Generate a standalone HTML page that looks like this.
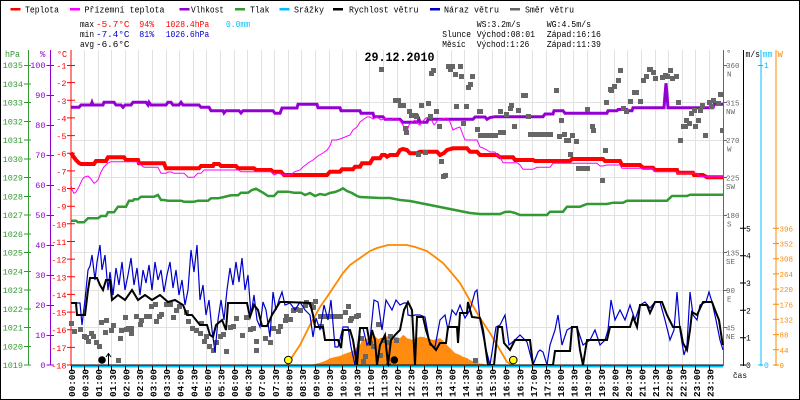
<!DOCTYPE html>
<html><head><meta charset="utf-8"><style>
html,body{margin:0;padding:0;background:#fff;}
svg{display:block;}
text{font-family:"Liberation Mono","DejaVu Sans Mono",monospace;}
</style></head><body>
<svg width="800" height="400" viewBox="0 0 800 400" xmlns="http://www.w3.org/2000/svg">
<rect x="0" y="0" width="800" height="400" fill="#fff"/>
<rect x="0.5" y="0.5" width="799" height="399" fill="none" stroke="#000" stroke-width="1"/>

<!-- legend -->
<g font-size="9">
<rect x="10.5" y="8" width="10" height="2.5" fill="#ff0000"/><text x="25" y="12.5" textLength="34" lengthAdjust="spacingAndGlyphs">Teplota</text>
<rect x="70" y="8" width="10" height="2.5" fill="#ff00ff"/><text x="84.5" y="12.5" textLength="80" lengthAdjust="spacingAndGlyphs">Přízemní teplota</text>
<rect x="179.5" y="8" width="10" height="2.5" fill="#9400d3"/><text x="191" y="12.5" textLength="33" lengthAdjust="spacingAndGlyphs">Vlhkost</text>
<rect x="235" y="8" width="10" height="2.5" fill="#339933"/><text x="250" y="12.5" textLength="19.5" lengthAdjust="spacingAndGlyphs">Tlak</text>
<rect x="279.5" y="8" width="10" height="2.5" fill="#00bfff"/><text x="294" y="12.5" textLength="30" lengthAdjust="spacingAndGlyphs">Srážky</text>
<rect x="333" y="8" width="10" height="2.5" fill="#000"/><text x="349" y="12.5" textLength="69.5" lengthAdjust="spacingAndGlyphs">Rychlost větru</text>
<rect x="430" y="8" width="10" height="2.5" fill="#0000cc"/><text x="444" y="12.5" textLength="55" lengthAdjust="spacingAndGlyphs">Náraz větru</text>
<rect x="510" y="8" width="10" height="2.5" fill="#666"/><text x="525" y="12.5" textLength="49" lengthAdjust="spacingAndGlyphs">Směr větru</text>
</g>

<!-- stats -->
<g font-size="9">
<text x="80" y="27" textLength="14" lengthAdjust="spacingAndGlyphs">max</text>
<text x="96" y="27" fill="#ff0000" textLength="33.5" lengthAdjust="spacingAndGlyphs">-5.7°C</text>
<text x="139.3" y="27" fill="#ff0000" textLength="15" lengthAdjust="spacingAndGlyphs">94%</text>
<text x="165.7" y="27" fill="#ff0000" textLength="43.5" lengthAdjust="spacingAndGlyphs">1028.4hPa</text>
<text x="226" y="27" fill="#00bfff" textLength="24" lengthAdjust="spacingAndGlyphs">0.0mm</text>
<text x="80" y="37" textLength="14" lengthAdjust="spacingAndGlyphs">min</text>
<text x="96" y="37" fill="#0000cc" textLength="33.5" lengthAdjust="spacingAndGlyphs">-7.4°C</text>
<text x="139.3" y="37" fill="#0000cc" textLength="15" lengthAdjust="spacingAndGlyphs">81%</text>
<text x="165.7" y="37" fill="#0000cc" textLength="43.5" lengthAdjust="spacingAndGlyphs">1026.6hPa</text>
<text x="80" y="47" textLength="14" lengthAdjust="spacingAndGlyphs">avg</text>
<text x="96" y="47" textLength="33.5" lengthAdjust="spacingAndGlyphs">-6.6°C</text>

<text x="476.7" y="27" textLength="44" lengthAdjust="spacingAndGlyphs">WS:3.2m/s</text>
<text x="546.7" y="27" textLength="44.3" lengthAdjust="spacingAndGlyphs">WG:4.5m/s</text>
<text x="442.3" y="37" textLength="28.7" lengthAdjust="spacingAndGlyphs">Slunce</text>
<text x="476.7" y="37" textLength="58.3" lengthAdjust="spacingAndGlyphs">Východ:08:01</text>
<text x="546.7" y="37" textLength="54.3" lengthAdjust="spacingAndGlyphs">Západ:16:16</text>
<text x="442.3" y="47" textLength="23.4" lengthAdjust="spacingAndGlyphs">Měsíc</text>
<text x="476.7" y="47" textLength="52.6" lengthAdjust="spacingAndGlyphs">Východ:1:26</text>
<text x="546.7" y="47" textLength="54.3" lengthAdjust="spacingAndGlyphs">Západ:11:39</text>
</g>

<!-- grid -->
<path d="M84.5 50V365M98.5 50V365M111.5 50V365M125.5 50V365M138.5 50V365M152.5 50V365M166.5 50V365M179.5 50V365M193.5 50V365M206.5 50V365M220.5 50V365M234.5 50V365M247.5 50V365M261.5 50V365M274.5 50V365M288.5 50V365M301.5 50V365M315.5 50V365M329.5 50V365M342.5 50V365M356.5 50V365M369.5 50V365M383.5 50V365M397.5 50V365M410.5 50V365M424.5 50V365M437.5 50V365M451.5 50V365M464.5 50V365M478.5 50V365M492.5 50V365M505.5 50V365M519.5 50V365M532.5 50V365M546.5 50V365M560.5 50V365M573.5 50V365M587.5 50V365M600.5 50V365M614.5 50V365M627.5 50V365M641.5 50V365M655.5 50V365M668.5 50V365M682.5 50V365M695.5 50V365M709.5 50V365M71 102.5H723M71 140.5H723M71 177.5H723M71 215.5H723M71 252.5H723M71 290.5H723M71 327.5H723" stroke="#e2e2e2" stroke-width="1" fill="none" shape-rendering="crispEdges"/>

<!-- title -->
<text x="364.5" y="61" font-size="13" font-weight="bold" textLength="70" lengthAdjust="spacingAndGlyphs">29.12.2010</text>

<!-- axes -->
<g shape-rendering="crispEdges">
<line x1="28.5" y1="50" x2="28.5" y2="365" stroke="#339933" stroke-width="1"/>
<line x1="50.5" y1="50" x2="50.5" y2="365" stroke="#9400d3" stroke-width="1"/>
<line x1="71" y1="50" x2="71" y2="366" stroke="#ff0000" stroke-width="1.3"/>
<line x1="723.5" y1="50" x2="723.5" y2="366" stroke="#666" stroke-width="1.2"/>
<line x1="743.5" y1="50" x2="743.5" y2="366" stroke="#000" stroke-width="1"/>
<line x1="761" y1="50" x2="761" y2="366" stroke="#00bfff" stroke-width="1.2"/>
<line x1="776" y1="50" x2="776" y2="366" stroke="#ff8800" stroke-width="1.2"/>
</g>
<g font-size="9">
<text x="5" y="57" fill="#339933" textLength="15" lengthAdjust="spacingAndGlyphs">hPa</text>
<text x="40" y="57" fill="#9400d3">%</text>
<text x="57" y="57" fill="#ff0000" textLength="10" lengthAdjust="spacingAndGlyphs">°C</text>
<text x="726" y="56" fill="#666">°</text>
<text x="745.5" y="57" textLength="14.5" lengthAdjust="spacingAndGlyphs">m/s</text>
<text x="762.5" y="57" fill="#00bfff" textLength="10" lengthAdjust="spacingAndGlyphs">mm</text>
<text x="777.5" y="57" fill="#ff8800">W</text>
</g>

<!-- hPa labels -->
<g font-size="8.5" fill="#339933" text-anchor="end">
<text x="23" y="68">1035</text><text x="23" y="86.75">1034</text><text x="23" y="105.5">1033</text><text x="23" y="124.25">1032</text><text x="23" y="143">1031</text><text x="23" y="161.75">1030</text><text x="23" y="180.5">1029</text><text x="23" y="199.25">1028</text><text x="23" y="218">1027</text><text x="23" y="236.75">1026</text><text x="23" y="255.5">1025</text><text x="23" y="274.25">1024</text><text x="23" y="293">1023</text><text x="23" y="311.75">1022</text><text x="23" y="330.5">1021</text><text x="23" y="349.25">1020</text><text x="23" y="368">1019</text>
</g>
<path d="M24 65.5H31M24 84H31M24 102.5H31M24 121.5H31M24 140H31M24 159H31M24 177.5H31M24 196.5H31M24 215H31M24 234H31M24 252.5H31M24 271.5H31M24 290H31M24 309H31M24 327.5H31M24 346.5H31M24 365H31" stroke="#339933" stroke-width="1" shape-rendering="crispEdges"/>
<!-- % labels -->
<g font-size="8.5" fill="#9400d3" text-anchor="end">
<text x="45.5" y="68">100</text><text x="45.5" y="98">90</text><text x="45.5" y="128">80</text><text x="45.5" y="158">70</text><text x="45.5" y="188">60</text><text x="45.5" y="218">50</text><text x="45.5" y="248">40</text><text x="45.5" y="278">30</text><text x="45.5" y="308">20</text><text x="45.5" y="338">10</text><text x="45.5" y="368">0</text>
</g>
<path d="M46.5 65.5H54M46.5 95.5H54M46.5 125.5H54M46.5 155.5H54M46.5 185.5H54M46.5 215.5H54M46.5 245.5H54M46.5 275.5H54M46.5 305.5H54M46.5 335.5H54M46.5 365H54" stroke="#9400d3" stroke-width="1" shape-rendering="crispEdges"/>
<!-- °C labels -->
<g font-size="8.5" fill="#ff0000" text-anchor="end">
<text x="66.5" y="68.5">-1</text><text x="66.5" y="86.1">-2</text><text x="66.5" y="103.8">-3</text><text x="66.5" y="121.4">-4</text><text x="66.5" y="139.1">-5</text><text x="66.5" y="156.7">-6</text><text x="66.5" y="174.4">-7</text><text x="66.5" y="192">-8</text><text x="66.5" y="209.7">-9</text><text x="66.5" y="227.3">-10</text><text x="66.5" y="245">-11</text><text x="66.5" y="262.6">-12</text><text x="66.5" y="280.3">-13</text><text x="66.5" y="297.9">-14</text><text x="66.5" y="315.6">-15</text><text x="66.5" y="333.2">-16</text><text x="66.5" y="350.9">-17</text><text x="66.5" y="368.5">-18</text>
</g>
<path d="M67 65.5H75M67 82.6H75M67 100.3H75M67 117.9H75M67 135.6H75M67 153.2H75M67 170.9H75M67 188.5H75M67 206.2H75M67 223.8H75M67 241.5H75M67 259.1H75M67 276.8H75M67 294.4H75M67 312.1H75M67 329.7H75M67 347.4H75M67 365H75" stroke="#ff0000" stroke-width="1"/>

<!-- right labels -->
<g font-size="7.5" fill="#666">
<text x="726" y="68">360</text><text x="727" y="76.5">N</text>
<text x="726" y="105.5">315</text><text x="726" y="114">NW</text>
<text x="726" y="143">270</text><text x="727" y="151.5">W</text>
<text x="726" y="180.5">225</text><text x="726" y="189">SW</text>
<text x="726" y="218">180</text><text x="727" y="226.5">S</text>
<text x="726" y="255.5">135</text><text x="726" y="264">SE</text>
<text x="726" y="293">90</text><text x="727" y="301.5">E</text>
<text x="726" y="330.5">45</text><text x="726" y="339">NE</text>
</g>
<path d="M723 65.5H727M723 102.5H727M723 140.5H727M723 177.5H727M723 215.5H727M723 252.5H727M723 290.5H727M723 327.5H727" stroke="#666" stroke-width="1"/>
<g font-size="8">
<text x="746" y="368">0</text><text x="746" y="340.7">1</text><text x="746" y="313.3">2</text><text x="746" y="286">3</text><text x="746" y="258.7">4</text><text x="746" y="231.3">5</text>
</g>
<path d="M740 365H746M740 337.7H746M740 310.3H746M740 283H746M740 255.7H746M740 228.3H746" stroke="#000" stroke-width="1"/>
<g font-size="8" fill="#00bfff">
<text x="764" y="68">1</text><text x="764" y="368">0</text>
</g>
<path d="M758 65.5H763M758 365H763" stroke="#00bfff" stroke-width="1"/>
<g font-size="7.5" fill="#ff8800">
<text x="779.5" y="368">0</text><text x="779.5" y="352.8">44</text><text x="779.5" y="337.6">88</text><text x="779.5" y="322.4">132</text><text x="779.5" y="307.3">176</text><text x="779.5" y="292.1">220</text><text x="779.5" y="276.9">264</text><text x="779.5" y="261.7">308</text><text x="779.5" y="246.5">352</text><text x="779.5" y="231.3">396</text>
</g>
<path d="M773 365H779M773 349.8H779M773 334.6H779M773 319.4H779M773 304.3H779M773 289.1H779M773 273.9H779M773 258.7H779M773 243.5H779M773 228.3H779" stroke="#ff8800" stroke-width="1"/>

<!-- solar fill -->
<polygon fill="#ff8c10" points="310,365 315,364 320,362.7 325,361 327,360 330,358.3 335,357 340,356 343,354.5 347,353 350,352 353,350.7 356,348 358,346 360,345 362,340 365,339 368,338.3 370,338.3 373,336 375,336 378,339 381,338 385,337.3 388,336 393,336.7 397,337 400,338.3 403,335 405,336 407,338.3 410,339 413,340 416,338 420,336.7 424,337 427,338.3 430,339 433,340 437,339 440,338.3 443,340.5 447,345 450,348 455,353 460,355 463,356.7 467,358 470,360 475,362 478,363.3 484,364 490,365"/>
<!-- theoretical radiation -->
<polyline fill="none" stroke="#ff8800" stroke-width="1.8" points="288,365 290,360 300,345 310,325 320,307 327,297 335,285 343,273 350,265 360,258 370,251 377,248 388,245 407,245 415,247 427,251 435,257 443,263 450,271 460,283 473,306 480,318 490,333 500,350 507,362 513,365"/>

<!-- pressure -->
<polyline fill="none" stroke="#339933" stroke-width="2.5" points="71,220.7 76,220.7 78,222.3 84,222.3 88,218.3 98,218.3 101,216 106,216 108,212.3 114,212.3 118,206.7 126,206.7 129,200.7 133,200.7 134,199.3 138,199.3 141,196.7 154,196.7 158,195 161,200 164,200 168,200.7 181,200.7 184,201.7 194,201.7 198,200.7 208,200.7 211,198.3 218,198.3 224,197 231,195.3 238,195.3 241,192.7 248,192.7 252,190 256,188.7 260,191 263,192.7 268,196 274,196 278,191.7 288,191.7 294,192.7 301,192.7 305,195 310,193 315,196 320,194 325,195 330,193 335,192 340,190 343,188.3 347,191 352,193 357,196 360,197 370,197.5 380,198 390,198 400,200 410,201 420,203 430,205 440,207 450,209 460,211 470,213 480,214 500,214 505,212 510,211.7 515,213 520,215 547,215 550,211.7 563,211.7 567,206.7 580,206.7 587,204 607,204 613,202.7 623,202.7 627,200.7 667,200.7 672,196 687,196 690,194.7 723,194.7"/>
<!-- humidity -->
<polyline fill="none" stroke="#9400d3" stroke-width="3" points="71,107.3 79,107.3 81,105 91,105 92,102.3 93,105 103,105 104,102.3 114,102.3 116,105 121,105 123,107.3 125,105 131,105 133,102.3 146,102.3 148,105 149,102.3 151,105 166,105 168,102.3 171,102.3 173,105 179,105 181,102.3 183,105 199,105 201,107.3 209,107.3 211,110.7 223,110.7 224,113 226,110.7 239,110.7 241,113 243,110.7 273,110.7 275,113.3 280,113.3 282,108 297,108 298,104.3 317,104.3 318,107.7 340,107.7 341,110.7 360,110.7 361,113.3 373,113.3 374,116.7 383,116.7 385,119.3 400,119.3 403,122.3 417,122.3 419,119.3 420,122.3 427,122.3 428,119.3 473,119.3 475,117 485,117 487,119.3 490,117.5 495,116.7 543,116.7 545,114 553,114 554,110.7 563,110.7 565,113.3 607,113.3 608,110.7 617,110.7 618,109.5 627,109.5 628,110.7 632,110.7 633,107.7 664,107.7 665,95 666,83.3 667,95 668,107.7 713,107.7 714,104.3 723,104.3"/>
<!-- temperature -->
<polyline fill="none" stroke="#ff0000" stroke-width="4" points="71,152.7 73,156 76,160 79,163 81,164 94,164 96,161 106,161 108,157.3 124,157.3 126,160 138,160 139,163.3 164,163.3 166,168.3 199,168.3 201,166 213,166 214,164 219,164 221,166 236,166 238,168.3 254,168.3 256,170 271,170 273,171.7 281,171.7 284,175 327,175 330,171.7 340,171.7 342,169.3 353,169.3 355,166.7 360,166.7 362,163.3 370,163.3 373,158.3 380,158.3 382,155 385,155 387,156.7 390,155 397,155 400,150 403,149 407,150 410,153.3 417,153.3 420,151.7 437,151.7 440,155 444,153 447,150 453,148.3 467,148.3 470,151.7 477,151.7 480,155 497,155 500,157.3 513,157.3 515,160 533,160 535,161 570,161 572,159 603,159 605,161 620,161 622,165 640,165 643,167.7 653,167.7 655,170 677,170 678,172.7 693,172.7 694,175 703,175 707,177.3 723,177.3"/>
<!-- apparent temp -->
<polyline fill="none" stroke="#ff00ff" stroke-width="1" points="71,185 72,190 74,193.3 76,192 79,186.7 82,180 84,177.3 88,176 91,179 94,183.3 96,182 98,180 101,172 104,166.7 108,163 111,161.7 137,161.7 141,165 144,167.3 158,167.3 161,173.3 166,173.3 168,172 171,172 174,173.3 184,173.3 186,175 188,177.3 194,177.3 196,175 198,173.3 201,173.3 204,170 238,170 241,171.7 271,171.7 274,175 278,173.3 284,175 291,175 294,172 300,170 303,167 308,163 313,160 318,156 323,153 327,150 330,146 332,140 336,140 340,139 345,137 350,135 353,130 357,127 360,122 364,119 367,117 370,117 373,119 377,117 381,120 385,118 390,120 395,118 400,121 405,128 407,132 409,125 412,122 415,120 418,124 420,125 423,121 426,118 430,117 434,125 438,120 442,119 447,118 450,122 453,130 457,128 460,127 463,135 465,140 477,140 480,147 483,148 487,150 490,152 495,152 497,155 500,157 503,162.7 517,162.7 520,165 523,169.3 533,169.3 537,167.3 550,167.3 553,163.3 597,163.3 600,166 603,166 607,165 620,165 622,168.3 653,168.3 655,171.7 677,171.7 678,173.3 697,173.3 700,176.7 723,176.7"/>

<!-- wind direction squares -->
<path fill="#666" d="M69 321h5v5h-5zM72 329h5v5h-5zM78 327h5v5h-5zM82 334h5v5h-5zM84 335h5v5h-5zM86 339h5v5h-5zM89 331h5v5h-5zM91 334h5v5h-5zM94 340h5v5h-5zM97 344h5v5h-5zM99 320h5v5h-5zM103 330h5v5h-5zM104 318h5v5h-5zM109 328h5v5h-5zM111 323h5v5h-5zM116 358h5v5h-5zM118 336h5v5h-5zM119 328h5v5h-5zM123 315h5v5h-5zM124 327h5v5h-5zM126 326h5v5h-5zM129 326h5v5h-5zM129 331h5v5h-5zM134 314h5v5h-5zM138 322h5v5h-5zM139 318h5v5h-5zM144 314h5v5h-5zM147 314h5v5h-5zM149 304h5v5h-5zM153 302h5v5h-5zM154 319h5v5h-5zM157 314h5v5h-5zM159 312h5v5h-5zM164 302h5v5h-5zM168 302h5v5h-5zM171 315h5v5h-5zM174 308h5v5h-5zM177 304h5v5h-5zM184 310h5v5h-5zM186 319h5v5h-5zM190 326h5v5h-5zM194 328h5v5h-5zM198 331h5v5h-5zM199 321h5v5h-5zM202 339h5v5h-5zM204 334h5v5h-5zM207 344h5v5h-5zM211 348h5v5h-5zM214 340h5v5h-5zM218 334h5v5h-5zM221 332h5v5h-5zM224 349h5v5h-5zM228 325h5v5h-5zM231 324h5v5h-5zM234 316h5v5h-5zM240 333h5v5h-5zM244 315h5v5h-5zM248 327h5v5h-5zM251 326h5v5h-5zM254 339h5v5h-5zM254 348h5v5h-5zM263 336h5v5h-5zM268 340h5v5h-5zM271 326h5v5h-5zM276 329h5v5h-5zM278 324h5v5h-5zM283 318h5v5h-5zM284 314h5v5h-5zM288 317h5v5h-5zM291 308h5v5h-5zM294 307h5v5h-5zM298 308h5v5h-5zM303 303h5v5h-5zM304 300h5v5h-5zM309 302h5v5h-5zM313 299h5v5h-5zM311 305h5v5h-5zM318 314h5v5h-5zM319 324h5v5h-5zM323 314h5v5h-5zM328 314h5v5h-5zM333 314h5v5h-5zM338 314h5v5h-5zM343 310h5v5h-5zM346 304h5v5h-5zM348 318h5v5h-5zM349 316h5v5h-5zM354 314h5v5h-5zM356 313h5v5h-5zM359 336h5v5h-5zM363 354h5v5h-5zM361 359h5v5h-5zM368 341h5v5h-5zM371 344h5v5h-5zM376 322h5v5h-5zM378 353h5v5h-5zM381 338h5v5h-5zM386 340h5v5h-5zM388 334h5v5h-5zM394 338h5v5h-5zM473 358h5v5h-5z
M379 67h5v5h-5zM393 98h5v5h-5zM396 98h5v5h-5zM398 103h5v5h-5zM401 103h5v5h-5zM407 109h5v5h-5zM409 113h5v5h-5zM413 113h5v5h-5zM414 114h5v5h-5zM403 126h5v5h-5zM404 130h5v5h-5zM419 103h5v5h-5zM426 101h5v5h-5zM428 114h5v5h-5zM434 109h5v5h-5zM429 71h5v5h-5zM431 68h5v5h-5zM437 124h5v5h-5zM439 159h5v5h-5zM443 173h5v5h-5zM441 174h5v5h-5zM446 64h5v5h-5zM450 64h5v5h-5zM448 67h5v5h-5zM453 72h5v5h-5zM458 64h5v5h-5zM459 74h5v5h-5zM454 104h5v5h-5zM461 121h5v5h-5zM464 104h5v5h-5zM470 74h5v5h-5zM468 82h5v5h-5zM466 85h5v5h-5zM475 127h5v5h-5zM477 109h5v5h-5zM478 133h5v5h-5zM483 133h5v5h-5zM488 133h5v5h-5zM493 133h5v5h-5zM498 130h5v5h-5zM416 152h5v5h-5zM423 150h5v5h-5zM478 109h5v5h-5zM498 109h5v5h-5zM504 112h5v5h-5zM508 106h5v5h-5zM509 103h5v5h-5zM516 108h5v5h-5zM512 124h5v5h-5zM521 93h5v5h-5zM523 93h5v5h-5zM526 114h5v5h-5zM501 130h5v5h-5zM528 132h5v5h-5zM533 132h5v5h-5zM538 132h5v5h-5zM543 132h5v5h-5zM548 132h5v5h-5zM554 88h5v5h-5zM559 118h5v5h-5zM557 134h5v5h-5zM562 132h5v5h-5zM564 138h5v5h-5zM566 138h5v5h-5zM570 133h5v5h-5zM574 139h5v5h-5zM568 152h5v5h-5zM576 166h5v5h-5zM581 166h5v5h-5zM585 166h5v5h-5zM585 107h5v5h-5zM590 124h5v5h-5zM591 128h5v5h-5zM600 178h5v5h-5zM603 148h5v5h-5zM604 100h5v5h-5zM608 87h5v5h-5zM609 88h5v5h-5zM612 84h5v5h-5zM616 78h5v5h-5zM618 68h5v5h-5zM621 106h5v5h-5zM624 109h5v5h-5zM628 99h5v5h-5zM632 90h5v5h-5zM634 90h5v5h-5zM638 99h5v5h-5zM641 78h5v5h-5zM644 74h5v5h-5zM647 67h5v5h-5zM648 67h5v5h-5zM651 70h5v5h-5zM653 76h5v5h-5zM660 75h5v5h-5zM663 73h5v5h-5zM665 74h5v5h-5zM668 68h5v5h-5zM670 76h5v5h-5zM674 74h5v5h-5zM676 100h5v5h-5zM678 138h5v5h-5zM681 124h5v5h-5zM683 124h5v5h-5zM684 118h5v5h-5zM687 121h5v5h-5zM689 111h5v5h-5zM692 108h5v5h-5zM693 124h5v5h-5zM696 118h5v5h-5zM698 108h5v5h-5zM700 103h5v5h-5zM703 133h5v5h-5zM707 100h5v5h-5zM709 104h5v5h-5zM711 98h5v5h-5zM716 101h5v5h-5zM718 92h5v5h-5zM720 128h4v5h-4z"/>

<!-- wind gust -->
<polyline fill="none" stroke="#0000cc" stroke-width="1.2" points="71,303 80,303 82,325 85,300 88,270 90,266 92,255 95,280 97,262 100,245 102,270 105,255 108,290 110,272 113,295 116,268 119,285 122,262 125,290 128,275 131,258 134,285 137,268 140,295 143,270 146,283 149,265 152,290 155,262 158,280 161,270 164,292 167,275 170,262 173,288 176,270 179,295 182,280 185,305 188,290 191,250 194,272 197,245 200,300 203,285 206,315 209,300 212,330 215,352 218,320 221,300 224,320 227,290 230,268 233,285 236,262 239,282 242,258 245,290 248,275 251,315 254,295 257,320 260,327 263,302 266,310 270,337 273,292 276,310 279,300 282,292 285,305 290,303 295,310 300,302 305,310 310,315 313,337 316,318 320,330 324,305 328,320 331,300 335,347 338,347 343,327 348,327 351,347 355,365 360,328 363,328 367,345 370,340 374,300 378,302 382,330 386,300 392,310 396,300 400,305 404,303 407,303 408,315 412,316 415,315 420,315 425,317 430,345 435,347 440,320 445,315 448,330 452,310 456,315 460,305 465,318 470,310 475,292 477,290 480,320 485,345 490,365 496,327 500,325 505,315 509,345 515,340 520,335 527,342 533,365 538,352 540,350 543,352 547,365 550,345 555,330 558,315 562,345 567,330 572,327 577,327 583,345 590,340 595,330 600,345 605,340 608,330 611,300 615,320 620,310 625,320 630,305 635,320 640,305 645,302 650,308 655,302 660,302 665,320 670,340 674,330 677,292 680,330 684,355 687,345 690,292 693,315 697,320 700,305 706,302 709,292 712,302 716,320 720,340 723,350"/>
<!-- wind speed -->
<polyline fill="none" stroke="#000" stroke-width="2" points="71,303 76,303 77,315 85,315 88,290 90,278 97,278 100,285 103,290 106,280 110,280 112,300 118,295 125,300 132,290 138,300 145,295 152,300 160,295 168,302 175,300 183,305 187,315 192,315 196,320 200,325 207,325 210,335 213,337 216,325 222,320 226,330 228,303 247,303 250,317 254,305 258,310 262,326 267,326 272,315 280,302 287,302 310,303 313,315 315,327 323,327 325,340 338,340 341,348 343,330 350,330 353,340 357,365 360,328 367,328 370,345 372,330 375,340 377,365 380,345 385,335 388,365 391,340 395,335 400,330 404,310 408,302 412,310 415,365 417,317 423,317 426,330 430,343 436,350 440,343 446,343 448,327 457,327 458,343 460,313 467,313 468,302 472,317 480,318 483,330 488,365 494,365 498,327 502,327 504,343 510,350 515,340 530,340 533,365 553,365 555,351 570,351 572,327 577,327 580,350 583,365 587,340 607,340 610,327 630,327 633,317 637,327 640,305 647,305 650,313 655,302 662,302 667,315 673,327 680,327 683,343 687,350 690,330 692,312 697,315 703,302 712,302 715,310 719,320 722,340 723,345"/>

<!-- x axis + precipitation -->
<rect x="71" y="364.5" width="652" height="1" fill="#000"/>
<rect x="71" y="365.5" width="652" height="2" fill="#00bfff"/>
<path d="M71.5 366V370M84.5 366V370M98.5 366V370M111.5 366V370M125.5 366V370M138.5 366V370M152.5 366V370M166.5 366V370M179.5 366V370M193.5 366V370M206.5 366V370M220.5 366V370M234.5 366V370M247.5 366V370M261.5 366V370M274.5 366V370M288.5 366V370M301.5 366V370M315.5 366V370M329.5 366V370M342.5 366V370M356.5 366V370M369.5 366V370M383.5 366V370M397.5 366V370M410.5 366V370M424.5 366V370M437.5 366V370M451.5 366V370M464.5 366V370M478.5 366V370M492.5 366V370M505.5 366V370M519.5 366V370M532.5 366V370M546.5 366V370M560.5 366V370M573.5 366V370M587.5 366V370M600.5 366V370M614.5 366V370M627.5 366V370M641.5 366V370M655.5 366V370M668.5 366V370M682.5 366V370M695.5 366V370M709.5 366V370" stroke="#000" stroke-width="1"/>

<!-- sun / moon markers -->
<circle cx="288.3" cy="360" r="3.8" fill="#ffff00" stroke="#000" stroke-width="1"/>
<circle cx="513.3" cy="360" r="3.8" fill="#ffff00" stroke="#000" stroke-width="1"/>
<circle cx="102" cy="360" r="3.8" fill="#000"/>
<circle cx="394.3" cy="360" r="3.8" fill="#000"/>
<path d="M108.5 366V354M106 357L108.5 353.5L111 357" stroke="#000" stroke-width="1" fill="none"/>
<path d="M388.5 359V366M386.5 363.5L388.5 366L390.5 363.5" stroke="#000" stroke-width="1" fill="none"/>

<text x="733" y="378" font-size="8.5" textLength="14" lengthAdjust="spacingAndGlyphs">čas</text>

<!-- x labels -->
<g font-size="9" font-weight="bold" text-anchor="end">
<text transform="translate(75,369) rotate(-90)" textLength="28" lengthAdjust="spacingAndGlyphs">00:00</text>
<text transform="translate(88.6,369) rotate(-90)" textLength="28" lengthAdjust="spacingAndGlyphs">00:30</text>
<text transform="translate(102.2,369) rotate(-90)" textLength="28" lengthAdjust="spacingAndGlyphs">01:00</text>
<text transform="translate(115.8,369) rotate(-90)" textLength="28" lengthAdjust="spacingAndGlyphs">01:30</text>
<text transform="translate(129.3,369) rotate(-90)" textLength="28" lengthAdjust="spacingAndGlyphs">02:00</text>
<text transform="translate(142.9,369) rotate(-90)" textLength="28" lengthAdjust="spacingAndGlyphs">02:30</text>
<text transform="translate(156.5,369) rotate(-90)" textLength="28" lengthAdjust="spacingAndGlyphs">03:00</text>
<text transform="translate(170.1,369) rotate(-90)" textLength="28" lengthAdjust="spacingAndGlyphs">03:30</text>
<text transform="translate(183.7,369) rotate(-90)" textLength="28" lengthAdjust="spacingAndGlyphs">04:00</text>
<text transform="translate(197.3,369) rotate(-90)" textLength="28" lengthAdjust="spacingAndGlyphs">04:30</text>
<text transform="translate(210.8,369) rotate(-90)" textLength="28" lengthAdjust="spacingAndGlyphs">05:00</text>
<text transform="translate(224.4,369) rotate(-90)" textLength="28" lengthAdjust="spacingAndGlyphs">05:30</text>
<text transform="translate(238,369) rotate(-90)" textLength="28" lengthAdjust="spacingAndGlyphs">06:00</text>
<text transform="translate(251.6,369) rotate(-90)" textLength="28" lengthAdjust="spacingAndGlyphs">06:30</text>
<text transform="translate(265.2,369) rotate(-90)" textLength="28" lengthAdjust="spacingAndGlyphs">07:00</text>
<text transform="translate(278.8,369) rotate(-90)" textLength="28" lengthAdjust="spacingAndGlyphs">07:30</text>
<text transform="translate(292.3,369) rotate(-90)" textLength="28" lengthAdjust="spacingAndGlyphs">08:00</text>
<text transform="translate(305.9,369) rotate(-90)" textLength="28" lengthAdjust="spacingAndGlyphs">08:30</text>
<text transform="translate(319.5,369) rotate(-90)" textLength="28" lengthAdjust="spacingAndGlyphs">09:00</text>
<text transform="translate(333.1,369) rotate(-90)" textLength="28" lengthAdjust="spacingAndGlyphs">09:30</text>
<text transform="translate(346.7,369) rotate(-90)" textLength="28" lengthAdjust="spacingAndGlyphs">10:00</text>
<text transform="translate(360.3,369) rotate(-90)" textLength="28" lengthAdjust="spacingAndGlyphs">10:30</text>
<text transform="translate(373.8,369) rotate(-90)" textLength="28" lengthAdjust="spacingAndGlyphs">11:00</text>
<text transform="translate(387.4,369) rotate(-90)" textLength="28" lengthAdjust="spacingAndGlyphs">11:30</text>
<text transform="translate(401,369) rotate(-90)" textLength="28" lengthAdjust="spacingAndGlyphs">12:00</text>
<text transform="translate(414.6,369) rotate(-90)" textLength="28" lengthAdjust="spacingAndGlyphs">12:30</text>
<text transform="translate(428.2,369) rotate(-90)" textLength="28" lengthAdjust="spacingAndGlyphs">13:00</text>
<text transform="translate(441.8,369) rotate(-90)" textLength="28" lengthAdjust="spacingAndGlyphs">13:30</text>
<text transform="translate(455.3,369) rotate(-90)" textLength="28" lengthAdjust="spacingAndGlyphs">14:00</text>
<text transform="translate(468.9,369) rotate(-90)" textLength="28" lengthAdjust="spacingAndGlyphs">14:30</text>
<text transform="translate(482.5,369) rotate(-90)" textLength="28" lengthAdjust="spacingAndGlyphs">15:00</text>
<text transform="translate(496.1,369) rotate(-90)" textLength="28" lengthAdjust="spacingAndGlyphs">15:30</text>
<text transform="translate(509.7,369) rotate(-90)" textLength="28" lengthAdjust="spacingAndGlyphs">16:00</text>
<text transform="translate(523.3,369) rotate(-90)" textLength="28" lengthAdjust="spacingAndGlyphs">16:30</text>
<text transform="translate(536.8,369) rotate(-90)" textLength="28" lengthAdjust="spacingAndGlyphs">17:00</text>
<text transform="translate(550.4,369) rotate(-90)" textLength="28" lengthAdjust="spacingAndGlyphs">17:30</text>
<text transform="translate(564,369) rotate(-90)" textLength="28" lengthAdjust="spacingAndGlyphs">18:00</text>
<text transform="translate(577.6,369) rotate(-90)" textLength="28" lengthAdjust="spacingAndGlyphs">18:30</text>
<text transform="translate(591.2,369) rotate(-90)" textLength="28" lengthAdjust="spacingAndGlyphs">19:00</text>
<text transform="translate(604.8,369) rotate(-90)" textLength="28" lengthAdjust="spacingAndGlyphs">19:30</text>
<text transform="translate(618.3,369) rotate(-90)" textLength="28" lengthAdjust="spacingAndGlyphs">20:00</text>
<text transform="translate(631.9,369) rotate(-90)" textLength="28" lengthAdjust="spacingAndGlyphs">20:30</text>
<text transform="translate(645.5,369) rotate(-90)" textLength="28" lengthAdjust="spacingAndGlyphs">21:00</text>
<text transform="translate(659.1,369) rotate(-90)" textLength="28" lengthAdjust="spacingAndGlyphs">21:30</text>
<text transform="translate(672.7,369) rotate(-90)" textLength="28" lengthAdjust="spacingAndGlyphs">22:00</text>
<text transform="translate(686.3,369) rotate(-90)" textLength="28" lengthAdjust="spacingAndGlyphs">22:30</text>
<text transform="translate(699.8,369) rotate(-90)" textLength="28" lengthAdjust="spacingAndGlyphs">23:00</text>
<text transform="translate(713.4,369) rotate(-90)" textLength="28" lengthAdjust="spacingAndGlyphs">23:30</text>
</g>
</svg>
</body></html>
